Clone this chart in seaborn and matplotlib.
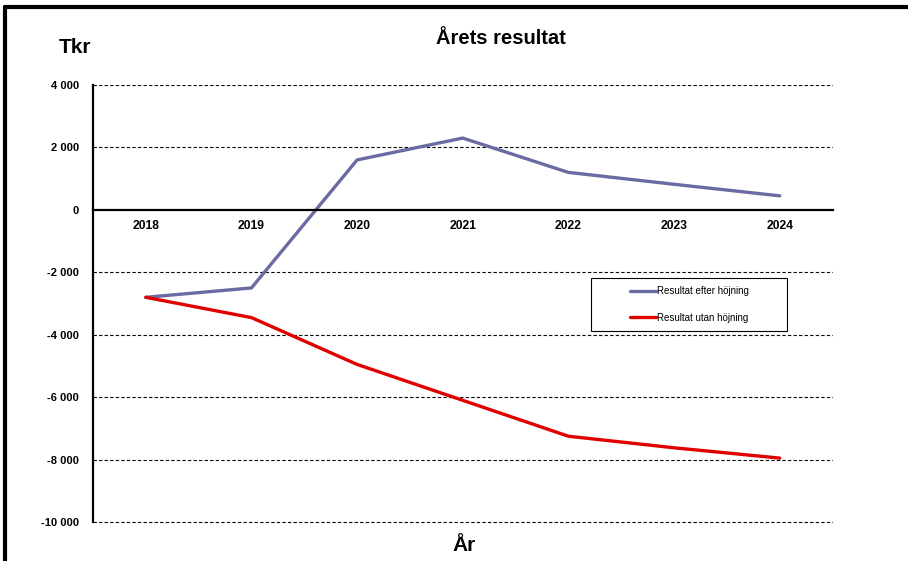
import pandas as pd
import seaborn as sns
import matplotlib.pyplot as plt
from matplotlib.lines import Line2D
from matplotlib.patches import Rectangle

years = ['2018', '2019', '2020', '2021', '2022', '2023', '2024']
efter = [-2800, -2500, 1600, 2300, 1200, 820, 450]
utan = [-2800, -3450, -4950, -6100, -7250, -7620, -7950]
series_names = ['Resultat efter höjning', 'Resultat utan höjning']
yticks = [4000, 2000, 0, -2000, -4000, -6000, -8000, -10000]

df = pd.DataFrame({
    'År': years * 2,
    'Tkr': efter + utan,
    'Serie': [series_names[0]] * len(years) + [series_names[1]] * len(years),
})

sns.set_style('white')
plt.rcParams['font.family'] = ['Liberation Sans', 'DejaVu Sans']
plt.rcParams['text.color'] = 'black'
plt.rcParams['xtick.color'] = 'black'
plt.rcParams['ytick.color'] = 'black'

fig = plt.figure(figsize=(9.08, 5.61), dpi=100)
ax = fig.add_axes([0.1024, 0.066, 0.8145, 0.7825])

palette = {series_names[0]: '#6b6ba3', series_names[1]: '#e00000'}
sns.lineplot(data=df, x='År', y='Tkr', hue='Serie', palette=palette,
             linewidth=2.4, ax=ax, sort=False)

ax.set_xlim(-0.5, 6.5)
ax.set_ylim(-10060, 4000)
ax.set_yticks(yticks)
ax.set_yticklabels([f'{v:,}'.replace(',', ' ') for v in yticks])
for v in yticks:
    if v != 0:
        ax.axhline(v, color='black', lw=0.8, ls=(0, (3, 2)), zorder=0)

ax.set_xticks(range(len(years)))
ax.set_xticklabels(years)
ax.set_xticks([i - 0.5 for i in range(len(years) + 1)], minor=True)
ax.tick_params(axis='x', which='major', length=0, pad=7)
ax.tick_params(axis='x', which='minor', length=3, width=1.5, direction='out', color='black')
ax.tick_params(axis='y', length=0, pad=10)

for s in ['top', 'right']:
    ax.spines[s].set_visible(False)
ax.spines['bottom'].set_position(('data', 0))
ax.spines['bottom'].set_linewidth(1.6)
ax.spines['bottom'].set_color('black')
ax.spines['left'].set_linewidth(1.6)
ax.spines['left'].set_color('black')
ax.spines['left'].set_bounds(-10000, 4000)

ax.set_xlabel('')
ax.set_ylabel('')

# legend box drawn separately so the entries can sit centred in it
ax.add_patch(Rectangle((0.674, 0.439), 0.264, 0.122, transform=ax.transAxes,
                       facecolor='white', edgecolor='black', lw=0.8, zorder=5))
handles = [Line2D([], [], color=palette[n], lw=2.4) for n in series_names]
leg = ax.legend(handles, series_names, loc='center',
                bbox_to_anchor=(0.806, 0.5), fontsize=7, frameon=False,
                handlelength=2.7, handletextpad=0.1, labelspacing=1.7,
                borderpad=0)
leg.set_zorder(6)

plt.setp(ax.get_xticklabels(), fontsize=8.7, fontweight='bold', color='black')
plt.setp(ax.get_yticklabels(), fontsize=8, fontweight='bold', color='black')

fig.text(0.552, 0.932, 'Årets resultat', ha='center', va='center',
         fontsize=14.5, fontweight='bold')
fig.text(0.083, 0.916, 'Tkr', ha='center', va='center',
         fontsize=15, fontweight='bold')
fig.text(0.511, 0.028, 'År', ha='center', va='center',
         fontsize=15, fontweight='bold')

# frame on top and left edge
fig.add_artist(Line2D([0.005, 1.0], [0.988, 0.988], color='black', lw=3,
                      transform=fig.transFigure))
fig.add_artist(Line2D([0.006, 0.006], [0.0, 0.988], color='black', lw=3,
                      transform=fig.transFigure))

fig.savefig('out.png', dpi=100)
